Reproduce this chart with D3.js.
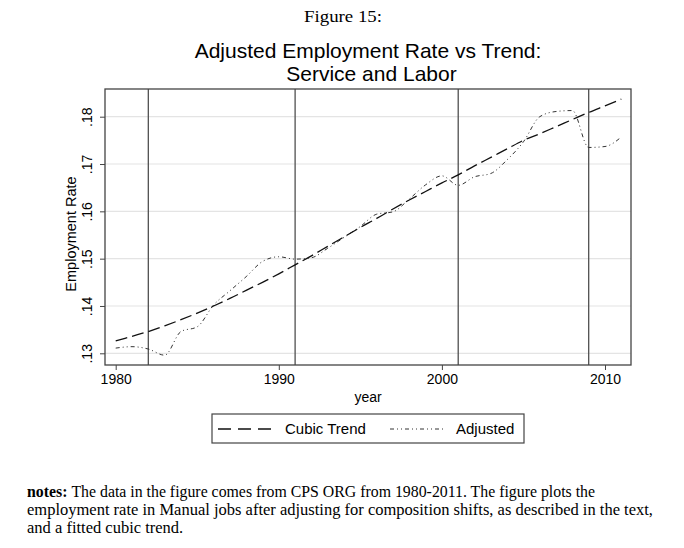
<!DOCTYPE html>
<html>
<head>
<meta charset="utf-8">
<script src="https://cdn.jsdelivr.net/npm/d3@7"></script>
<style>
  body { margin: 0; background: #fff; }
  svg { display: block; }
</style>
</head>
<body>
<svg id="chart"></svg>
<script>
// data
const years = d3.range(1980, 2012)
const cubicTrend = [
  .1326, .1336, .1346, .1358, .1371, .1385, .1400, .1416, .1433, .1450,
  .1468, .1487, .1506, .1526, .1546, .1566, .1585, .1605, .1624, .1642,
  .1660, .1677, .1696, .1714, .1732, .1750, .1764, .1779, .1794, .1809,
  .1823, .1837
]
const adjusted = [
  .1311, .1314, .1309, .1296, .1346, .1356, .1402, .1432, .1462, .1494,
  .1504, .1499, .1502, .1522, .1545, .1568, .1594, .1599, .1626, .1656,
  .1675, .1655, .1673, .1680, .1709, .1747, .1800, .1811, .1813, .1735,
  .1737, .1757
]
const recessions = [1982, 1991, 2001, 2009]
const xTicks = [1980, 1990, 2000, 2010]
const yTicks = [.13, .14, .15, .16, .17, .18]

const w = 684
const h = 548
const plot = { left: 105, right: 631, top: 89, bottom: 365 }

const svg = d3.select('#chart')
  .attr('width', w)
  .attr('height', h)

const sans = 'Liberation Sans, Arial, sans-serif'
const serif = 'Liberation Serif, Times New Roman, serif'

// scaling
const xScale = d3.scaleLinear()
  .domain([1980, 2010])
  .range([115.7, 605])
const yScale = d3.scaleLinear()
  .domain([.13, .18])
  .range([353.3, 116.7])

// headings
svg.append('text')
  .attr('x', 304).attr('y', 22)
  .attr('textLength', 78).attr('lengthAdjust', 'spacingAndGlyphs')
  .style('font-family', serif).style('font-size', '17.5px')
  .text('Figure 15:')

svg.append('text')
  .attr('x', 368).attr('y', 58)
  .attr('text-anchor', 'middle')
  .style('font-family', sans).style('font-size', '21px')
  .text('Adjusted Employment Rate vs Trend:')
svg.append('text')
  .attr('x', 371.5).attr('y', 81)
  .attr('text-anchor', 'middle')
  .style('font-family', sans).style('font-size', '21px')
  .text('Service and Labor')

// grid
svg.append('g')
  .selectAll('line')
  .data(yTicks)
  .join('line')
  .attr('x1', plot.left).attr('x2', plot.right)
  .attr('y1', d => yScale(d)).attr('y2', d => yScale(d))
  .attr('stroke', '#e4e4e4')
  .attr('stroke-width', 1.2)

// recession lines
svg.append('g')
  .selectAll('line')
  .data(recessions)
  .join('line')
  .attr('x1', d => xScale(d)).attr('x2', d => xScale(d))
  .attr('y1', plot.top).attr('y2', plot.bottom)
  .attr('stroke', '#505050')
  .attr('stroke-width', 1.3)

// axes
const xAxis = d3.axisBottom(xScale)
  .tickValues(xTicks)
  .tickFormat(d3.format('d'))
  .tickSize(5)
  .tickPadding(4)
const yAxis = d3.axisLeft(yScale)
  .tickValues(yTicks)
  .tickFormat(d => d3.format('.2f')(d).replace(/^0/, ''))
  .tickSize(5)
  .tickPadding(3)

const gx = svg.append('g')
  .attr('transform', `translate(0, ${plot.bottom})`)
  .call(xAxis)
gx.select('.domain').remove()
gx.selectAll('line').attr('stroke', '#444')
gx.selectAll('text')
  .style('font-family', sans).style('font-size', '14px').attr('fill', '#000')

const gy = svg.append('g')
  .attr('transform', `translate(${plot.left}, 0)`)
  .call(yAxis)
gy.select('.domain').remove()
gy.selectAll('line').attr('stroke', '#444')
gy.selectAll('text')
  .style('font-family', sans).style('font-size', '14px').attr('fill', '#000')
  .attr('text-anchor', 'middle')
  .attr('x', null).attr('dy', null)
  .attr('transform', 'translate(-13, 0) rotate(-90)')
  .attr('y', 0)

// frame
svg.append('rect')
  .attr('x', plot.left).attr('y', plot.top)
  .attr('width', plot.right - plot.left)
  .attr('height', plot.bottom - plot.top)
  .attr('fill', 'none')
  .attr('stroke', '#444')
  .attr('stroke-width', 1.3)

// axis titles
svg.append('text')
  .attr('transform', `translate(76, ${(plot.top + plot.bottom) / 2 + 7}) rotate(-90)`)
  .attr('text-anchor', 'middle')
  .style('font-family', sans).style('font-size', '14.5px')
  .text('Employment Rate')

svg.append('text')
  .attr('x', 368).attr('y', 402)
  .attr('text-anchor', 'middle')
  .style('font-family', sans).style('font-size', '14px')
  .text('year')

// draw data
const line = vals => d3.line()
  .x((d, i) => xScale(years[i]))
  .y(d => yScale(d))
  .curve(d3.curveMonotoneX)(vals)

svg.append('path')
  .attr('d', line(adjusted))
  .attr('fill', 'none')
  .attr('stroke', '#333')
  .attr('stroke-width', 1)
  .attr('stroke-dasharray', '4 3 1 3 1 3')

svg.append('path')
  .attr('d', line(cubicTrend))
  .attr('fill', 'none')
  .attr('stroke', '#111')
  .attr('stroke-width', 1.3)
  .attr('stroke-dasharray', '12 5')

// legend
const lg = svg.append('g')
lg.append('rect')
  .attr('x', 212).attr('y', 414)
  .attr('width', 312).attr('height', 29)
  .attr('fill', '#fff')
  .attr('stroke', '#444')
  .attr('stroke-width', 1.2)
lg.append('line')
  .attr('x1', 218).attr('x2', 272).attr('y1', 429).attr('y2', 429)
  .attr('stroke', '#111').attr('stroke-width', 1.3)
  .attr('stroke-dasharray', '13 7')
lg.append('text')
  .attr('x', 285).attr('y', 434)
  .style('font-family', sans).style('font-size', '15px')
  .text('Cubic Trend')
lg.append('line')
  .attr('x1', 390).attr('x2', 446).attr('y1', 429).attr('y2', 429)
  .attr('stroke', '#333').attr('stroke-width', 1)
  .attr('stroke-dasharray', '4 3 1 3 1 3')
lg.append('text')
  .attr('x', 456).attr('y', 434)
  .style('font-family', sans).style('font-size', '15px')
  .text('Adjusted')

// notes
const noteLines = [
  'The data in the figure comes from CPS ORG from 1980-2011. The figure plots the',
  'employment rate in Manual jobs after adjusting for composition shifts, as described in the text,',
  'and a fitted cubic trend.'
]

const n0 = svg.append('text')
  .attr('x', 27).attr('y', 497)
  .attr('textLength', 568).attr('lengthAdjust', 'spacingAndGlyphs')
  .style('font-family', serif).style('font-size', '16.5px')
n0.append('tspan').style('font-weight', 'bold').text('notes: ')
n0.append('tspan').text(noteLines[0])

noteLines.slice(1).forEach((t, i) => {
  svg.append('text')
    .attr('x', 27).attr('y', 515 + i * 18)
    .style('font-family', serif).style('font-size', '16.5px')
    .text(t)
})
</script>
</body>
</html>
